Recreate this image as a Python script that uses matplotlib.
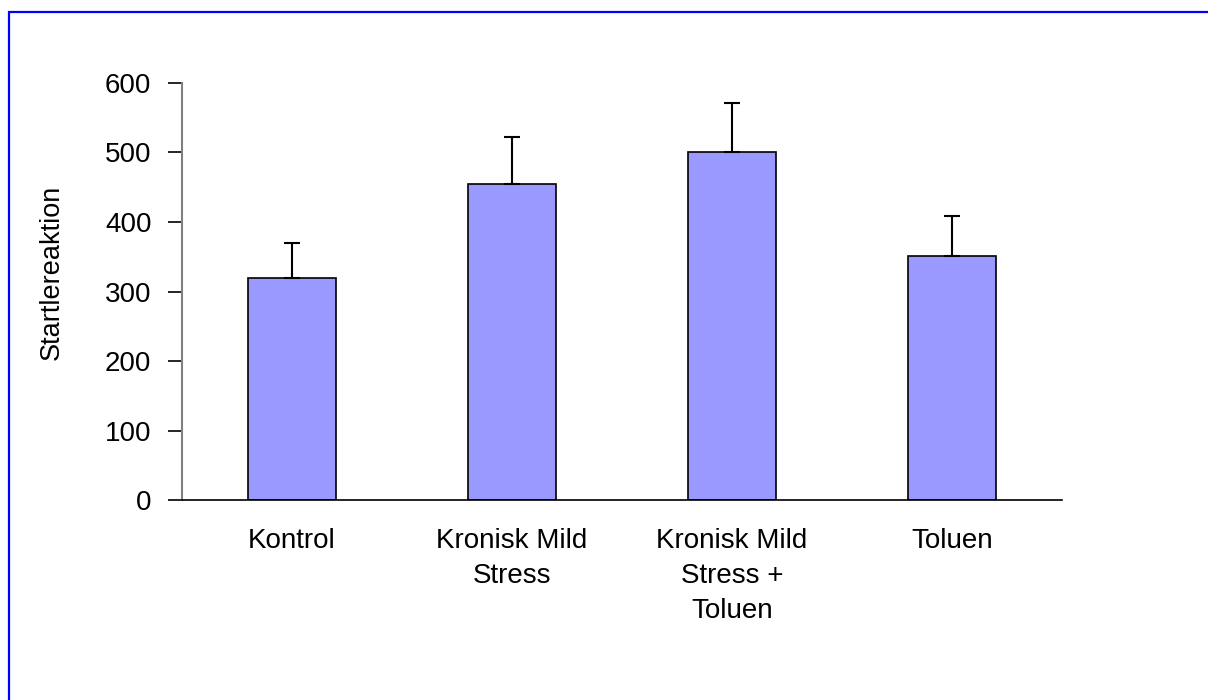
import matplotlib
matplotlib.use("Agg")
import matplotlib.pyplot as plt
from matplotlib.patches import Rectangle

categories = ["Kontrol", "Kronisk Mild\nStress", "Kronisk Mild\nStress +\nToluen", "Toluen"]
values = [319, 455, 501, 351]
errors = [51, 67, 70, 58]
yticks = [0, 100, 200, 300, 400, 500, 600]
ylabel = "Startlereaktion"

W, H = 1208, 700
plt.rcParams['font.family'] = ['Liberation Sans', 'DejaVu Sans']
fig = plt.figure(figsize=(W / 100, H / 100), dpi=100)
fig.patch.set_facecolor("white")

left, right, top, bottom = 182, 1062, 82.7, 500.3
ax = fig.add_axes([left / W, 1 - bottom / H, (right - left) / W, (bottom - top) / H])

x = [i + 0.5 for i in range(len(categories))]
ax.bar(x, values, width=0.4, color="#9999FF", edgecolor="black", linewidth=1.2, zorder=2)
ax.errorbar(x, values, yerr=[[0] * len(errors), errors], fmt="none", ecolor="black",
            elinewidth=1.5, capsize=6, capthick=1.5, zorder=3)

ax.set_xlim(0, 4)
ax.set_ylim(0, 600)
ax.set_yticks(yticks)
ax.set_yticklabels([str(t) for t in yticks], fontsize=20)
ax.set_xticks(x)
ax.set_xticklabels(categories, fontsize=20, linespacing=1.45)
ax.tick_params(axis="x", length=0, pad=20)
ax.tick_params(axis="y", length=10, width=1.2, color="black", pad=12, direction="out")

for s in ["top", "right"]:
    ax.spines[s].set_visible(False)
ax.spines["left"].set_color("#808080")
ax.spines["left"].set_linewidth(1.5)
ax.spines["bottom"].set_color("black")
ax.spines["bottom"].set_linewidth(1.2)

fig.text(52 / W, 1 - 272 / H, ylabel, rotation=90, fontsize=19.5, ha="center", va="center")

fig.add_artist(Rectangle((9 / W, -0.05), 1.1, 1 - 12 / H + 0.05, transform=fig.transFigure,
                         fill=False, edgecolor="#0000FF", linewidth=1.6, clip_on=False))

fig.savefig("out.png", dpi=100, facecolor="white")
